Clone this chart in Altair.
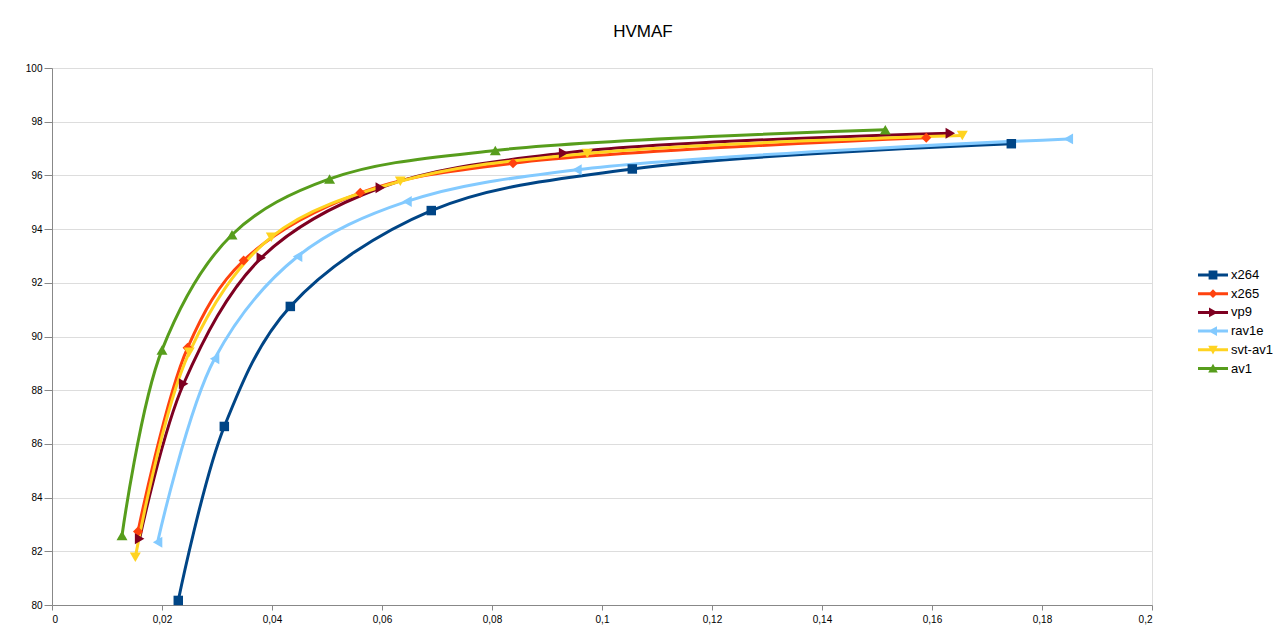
import altair as alt
import pandas as pd

series_names = ["x264", "x265", "vp9", "rav1e", "svt-av1", "av1"]

x264_x = [0.02296, 0.03133, 0.04333, 0.06896, 0.10551, 0.17442]
x264_y = [80.17, 86.65, 91.12, 94.69, 96.24, 97.18]
x265_x = [0.01564, 0.02465, 0.03484, 0.05605, 0.08382, 0.15896]
x265_y = [82.74, 89.58, 92.83, 95.35, 96.45, 97.40]
vp9_x = [0.01593, 0.02393, 0.03805, 0.05969, 0.09302, 0.16333]
vp9_y = [82.47, 88.24, 92.93, 95.54, 96.83, 97.57]
rav1e_x = [0.0192, 0.02956, 0.04465, 0.06455, 0.09545, 0.18478]
rav1e_y = [82.34, 89.17, 92.98, 95.03, 96.21, 97.36]
svtav1_x = [0.01515, 0.02496, 0.03987, 0.06333, 0.09733, 0.16551]
svtav1_y = [81.78, 89.41, 93.70, 95.78, 96.82, 97.49]
av1_x = [0.01273, 0.02, 0.03273, 0.05047, 0.0806, 0.15151]
av1_y = [82.59, 89.50, 93.79, 95.87, 96.93, 97.70]

x_ticks = [0, 0.02, 0.04, 0.06, 0.08, 0.1, 0.12, 0.14, 0.16, 0.18, 0.2]
y_ticks = [80, 82, 84, 86, 88, 90, 92, 94, 96, 98, 100]

# styles
colors = ["#004586", "#ff420e", "#7e0021", "#83caff", "#ffd320", "#579d1c"]
markers = ["square", "diamond", "triangle-right", "triangle-left", "triangle-down", "triangle-up"]
marker_sizes = [90, 100, 120, 120, 120, 120]
line_part = "M-1.875,-0.19H1.875V0.19H-1.875Z "
legend_paths = [
    line_part + "M-0.55,-0.55H0.55V0.55H-0.55Z",
    line_part + "M0,-0.55L0.55,0L0,0.55L-0.55,0Z",
    line_part + "M-0.5,-0.6L0.6,0L-0.5,0.6Z",
    line_part + "M0.5,-0.6L0.5,0.6L-0.6,0Z",
    line_part + "M-0.6,-0.5L0.6,-0.5L0,0.6Z",
    line_part + "M0,-0.6L0.6,0.5L-0.6,0.5Z",
]

xs = [x264_x, x265_x, vp9_x, rav1e_x, svtav1_x, av1_x]
ys = [x264_y, x265_y, vp9_y, rav1e_y, svtav1_y, av1_y]
rows = []
for i, name in enumerate(series_names):
    for xv, yv in zip(xs[i], ys[i]):
        rows.append({"series": name, "x": xv, "y": yv, "order": i,
                     "hex": colors[i], "marker": markers[i], "msize": marker_sizes[i]})
df = pd.DataFrame(rows)

FONT = "Liberation Sans"
GRAY = "#b3b3b3"

x_enc = alt.X("x:Q", scale=alt.Scale(domain=[0, 0.2], nice=False, zero=False),
              axis=alt.Axis(values=x_ticks, title=None, grid=False, tickSize=5,
                            labelExpr="replace(format(datum.value, '.2~f'), '.', ',')",
                            labelPadding=4))
y_enc = alt.Y("y:Q", scale=alt.Scale(domain=[80, 100], nice=False, zero=False),
              axis=alt.Axis(values=y_ticks, title=None, grid=True, tickSize=8,
                            labelPadding=2))

base = alt.Chart(df)

lines = base.mark_line(strokeWidth=3, interpolate="catmull-rom").encode(
    x=x_enc, y=y_enc,
    color=alt.Color("hex:N", scale=None),
    detail="series:N",
    order="x:Q",
)

points = base.mark_point(filled=True, opacity=1).encode(
    x=x_enc, y=y_enc,
    color=alt.Color("hex:N", scale=None),
    shape=alt.Shape("marker:N", scale=None),
    size=alt.Size("msize:Q", scale=None),
)

leg = alt.Legend(title=None, orient="none", legendX=1153, legendY=199,
                 symbolSize=256, symbolStrokeWidth=0, symbolOpacity=1,
                 labelFont=FONT, labelFontSize=13, labelColor="#000",
                 labelOffset=10, rowPadding=3.7, padding=0)

legend_layer = base.mark_point(filled=True, opacity=1).transform_filter("false").encode(
    x=x_enc, y=y_enc,
    color=alt.Color("series:N", scale=alt.Scale(domain=series_names, range=colors), legend=leg),
    shape=alt.Shape("series:N", scale=alt.Scale(domain=series_names, range=legend_paths), legend=leg),
)

chart = alt.layer(lines, points, legend_layer).properties(
    width=1100,
    height=537,
    autosize=alt.AutoSizeParams(type="none"),
    padding={"left": 44, "top": 60, "right": 125, "bottom": 30},
    title=alt.Title("HVMAF", font=FONT, fontSize=17, fontWeight="normal", color="#000",
                    offset=9, dx=41, baseline="alphabetic"),
).configure_view(
    stroke=GRAY, strokeWidth=1
).configure_axis(
    labelFont=FONT, labelFontSize=13, labelColor="#000",
    domainColor=GRAY, tickColor=GRAY, gridColor=GRAY, gridOpacity=1,
    domainWidth=1, tickWidth=1, gridWidth=1,
).configure(background="white")

chart.save("out.html", embed_options={"renderer": "svg", "actions": False})
